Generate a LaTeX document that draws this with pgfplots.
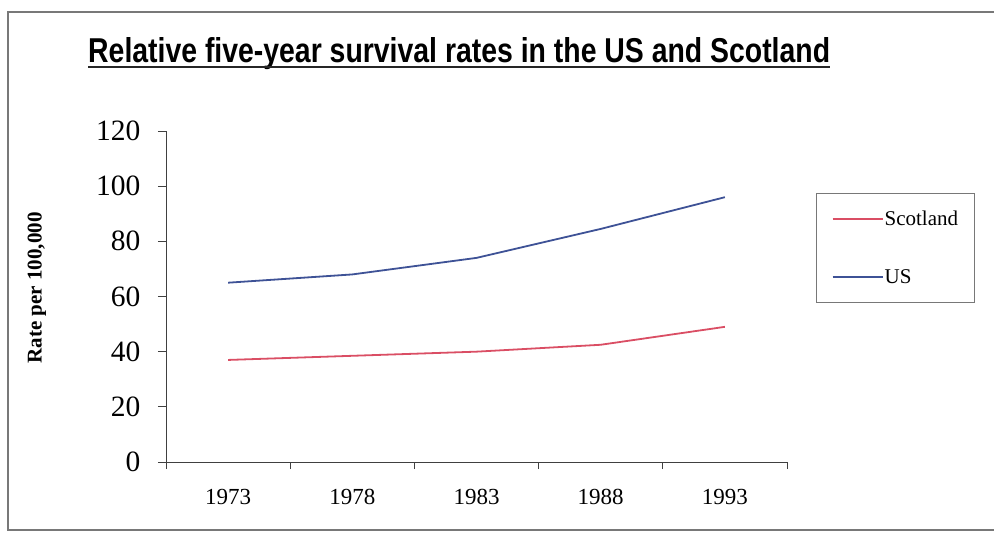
\documentclass[border=0pt]{standalone}
\usepackage{fontspec}
\setmainfont{Liberation Serif}
\newfontfamily\titlefont{Liberation Sans}
\usepackage{pgfplots}
\pgfplotsset{compat=1.18}

\definecolor{scotred}{RGB}{218,78,100}
\definecolor{usblue}{RGB}{62,82,150}
\definecolor{framegray}{RGB}{120,120,120}

\begin{document}
\begin{tikzpicture}[x=1pt,y=1pt]
  \useasboundingbox (0,0) rectangle (994,533);
  % outer frame of the chart
  \draw[framegray,line width=1.2pt] (994,521) -- (8,521) -- (8,3) -- (994,3);

  % title, set in a condensed bold face with its underline
  \node[anchor=base west,inner sep=0pt] at (88,470)
    {\resizebox{742pt}{25pt}{\titlefont\bfseries\fontsize{30}{32}\selectfont
      Relative five-year survival rates in the US and Scotland}};
  \draw[black!85,line width=2.6pt] (88,466) -- (830,466);

  % y-axis label
  \node[rotate=90,inner sep=0pt] at (37,245)
    {\fontsize{21}{23}\selectfont\bfseries Rate per 100,000};

  % lower-left corner of the plot area
  \coordinate (plotorigin) at (166,71);

  \begin{axis}[
    at={(plotorigin)}, anchor=south west,
    scale only axis, width=621pt, height=331pt,
    xmin=-0.5, xmax=4.5, ymin=0, ymax=120,
    axis x line*=bottom, axis y line*=left,
    axis line style={-,black!75,line width=0.9pt},
    xtick={0,1,2,3,4},
    xticklabels={1973,1978,1983,1988,1993},
    major x tick style={draw=none},
    minor xtick={-0.5,0.5,1.5,2.5,3.5,4.5},
    minor x tick style={black!75,line width=0.9pt},
    minor tick length=7pt,
    ytick={0,20,40,60,80,100,120},
    major y tick style={black!75,line width=0.9pt},
    major tick length=8pt,
    tick align=outside,
    /pgf/number format/assume math mode=true,
    x tick label style={font=\fontsize{23}{23}\selectfont, yshift=-16pt},
    y tick label style={font=\fontsize{29.5}{29.5}\selectfont, xshift=-14pt},
    legend style={at={(1.0467,0.8127)}, anchor=north west,
      draw=framegray, line width=0.8pt, fill=none,
      font=\fontsize{21}{21}\selectfont,
      inner xsep=15pt, inner ysep=17pt,
      row sep=40pt,
      nodes={inner sep=1pt, anchor=west}},
    legend cell align=left,
    legend image code/.code={\draw[#1,line width=2.2pt] (0pt,0.3pt) -- (50pt,0.3pt);},
  ]
    \addplot[scotred, line width=1.8pt] coordinates
      {(0,37) (1,38.5) (2,40) (3,42.5) (4,49)};
    \addlegendentry{Scotland}
    \addplot[usblue, line width=1.8pt] coordinates
      {(0,65) (1,68) (2,74) (3,84.5) (4,96)};
    \addlegendentry{US}
  \end{axis}
\end{tikzpicture}
\end{document}
